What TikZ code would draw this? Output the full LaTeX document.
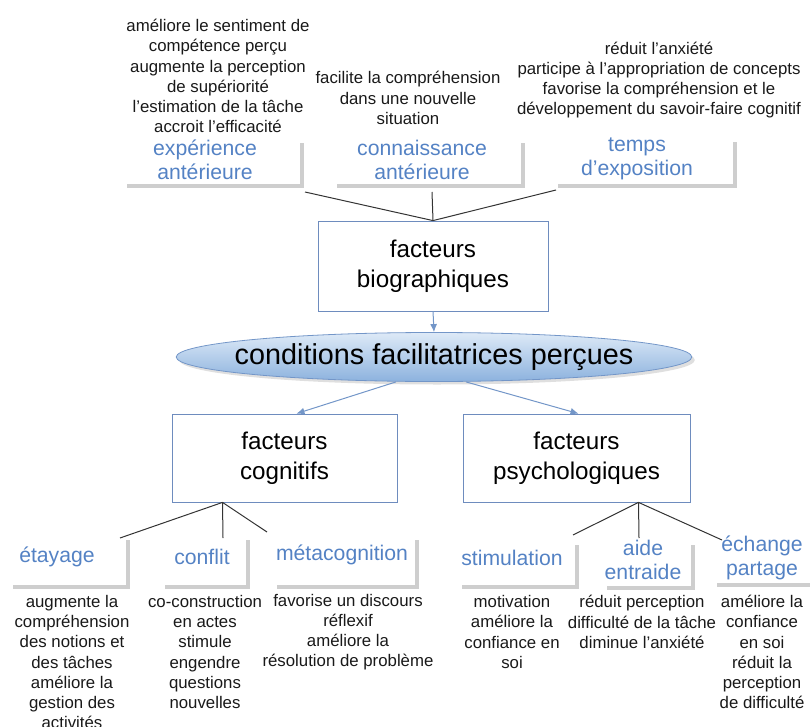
\documentclass[tikz,border=0pt]{standalone}
\usepackage{fontspec}
\setmainfont{Liberation Sans}
\usetikzlibrary{shapes.geometric,shadows,arrows.meta}

\definecolor{titleblue}{RGB}{84,130,196}
\definecolor{boxblue}{RGB}{110,140,190}
\definecolor{bracketgray}{RGB}{206,206,206}
\definecolor{ovaltop}{RGB}{222,234,247}
\definecolor{ovalbottom}{RGB}{140,178,222}
\definecolor{ovalline}{RGB}{115,150,200}
\definecolor{textgray}{RGB}{25,25,25}

\tikzset{
	desc/.style={align=center,text=textgray,inner sep=0pt,font=\fontsize{16.8}{20.2}\selectfont},
	topic/.style={align=center,text=titleblue,inner sep=0pt,font=\fontsize{21.2}{24.5}\selectfont},
	factor/.style={draw=boxblue,line width=0.8pt,align=center,inner sep=0pt,font=\fontsize{24.2}{30}\selectfont},
	bracket/.style={draw=bracketgray,line width=4pt,line join=miter},
	link/.style={draw=black!80,line width=1pt},
	flow/.style={draw=ovalline,line width=1pt,-{Latex[length=8pt,width=7pt]}}
}

\begin{document}
\begin{tikzpicture}[x=1pt,y=-1pt]
	\useasboundingbox (0,0) rectangle (810,727);

	% biographical factors
	\node[desc] (expdesc) at (218,76) {améliore le sentiment de\\compétence perçu\\augmente la perception\\de supériorité\\l'estimation de la tâche\\accroit l'efficacité};
	\node[desc] (conndesc) at (408,98) {facilite la compréhension\\dans une nouvelle\\situation};
	\node[desc] (tempsdesc) at (659,80) {réduit l'anxiété\\participe à l'appropriation de concepts\\favorise la compréhension et le\\développement du savoir-faire cognitif};

	\node[topic] (exp) at (205,160) {expérience\\antérieure};
	\node[topic] (conn) at (422,160) {connaissance\\antérieure};
	\node[topic] (temps) at (637,159) {temps\\d'exposition};

	\draw[bracket] (127,186) -- (302,186) -- (302,143);
	\draw[bracket] (337,186) -- (523,186) -- (523,143);
	\draw[bracket] (558,186) -- (735,186) -- (735,142);

	\node[factor,minimum width=230pt,minimum height=90pt] (bio) at (433,266) {facteurs\\biographiques};

	\coordinate (expend) at (305,192);
	\coordinate (connend) at (432,192);
	\coordinate (tempsend) at (556,190);
	\draw[link] (expend) -- (bio.north);
	\draw[link] (connend) -- (bio.north);
	\draw[link] (tempsend) -- (bio.north);

	% central oval
	\node[ellipse,draw=ovalline,line width=0.8pt,top color=ovaltop,bottom color=ovalbottom,
		drop shadow={shadow xshift=3pt,shadow yshift=-3pt,fill=black!25},
		minimum width=514pt,minimum height=49pt,inner xsep=-17pt,inner ysep=0pt,
		font=\fontsize{28.8}{32}\selectfont] (cond) at (434,357) {conditions facilitatrices perçues};

	\draw[flow] (bio.south) -- (cond.north);

	\node[factor,minimum width=225pt,minimum height=88pt] (cog) at (284.5,458) {facteurs\\cognitifs};
	\node[factor,minimum width=227pt,minimum height=88pt] (psy) at (576.5,458) {facteurs\\psychologiques};

	\draw[flow] ([xshift=-38pt]cond.south) -- ([xshift=12pt]cog.north);
	\draw[flow] ([xshift=32pt]cond.south) -- ([xshift=2pt]psy.north);

	% cognitive factors
	\node[topic] (etay) at (57,557) {étayage};
	\node[topic] (confl) at (202,557) {conflit};
	\node[topic] (meta) at (342,555) {métacognition};

	\draw[bracket] (13,587) -- (128,587) -- (128,540);
	\draw[bracket] (165,587) -- (248,587) -- (248,540);
	\draw[bracket] (277,587) -- (417,587) -- (417,540);

	\coordinate (cogapex) at ([xshift=-62pt]cog.south);
	\coordinate (etayend) at (120,538);
	\coordinate (conflend) at (223,538);
	\coordinate (metaend) at (267,532);
	\draw[link] (cogapex) -- (etayend);
	\draw[link] (cogapex) -- (conflend);
	\draw[link] (cogapex) -- (metaend);

	\node[desc] (etaydesc) at (72,662) {augmente la\\compréhension\\des notions et\\des tâches\\améliore la\\gestion des\\activités};
	\node[desc] (confldesc) at (205,652) {co-construction\\en actes\\stimule\\engendre\\questions\\nouvelles};
	\node[desc] (metadesc) at (348,632) {favorise un discours\\réflexif\\améliore la\\résolution de problème};

	% psychological factors
	\node[topic] (stim) at (512,558) {stimulation};
	\node[topic] (aide) at (643,560) {aide\\entraide};
	\node[topic] (echange) at (762,558) {échange\\partage};

	\draw[bracket] (462,587) -- (577,587) -- (577,545);
	\draw[bracket] (607,588) -- (693,588) -- (693,545);
	\draw[bracket] (717,585) -- (812,585);

	\coordinate (psyapex) at ([xshift=62pt]psy.south);
	\coordinate (stimend) at (573,535);
	\coordinate (aideend) at (639,538);
	\coordinate (echangeend) at (722,540);
	\draw[link] (psyapex) -- (stimend);
	\draw[link] (psyapex) -- (aideend);
	\draw[link] (psyapex) -- (echangeend);

	\node[desc] (stimdesc) at (512,632) {motivation\\améliore la\\confiance en\\soi};
	\node[desc] (aidedesc) at (642,622) {réduit perception\\difficulté de la tâche\\diminue l'anxiété};
	\node[desc] (echangedesc) at (762,652) {améliore la\\confiance\\en soi\\réduit la\\perception\\de difficulté};
\end{tikzpicture}
\end{document}
